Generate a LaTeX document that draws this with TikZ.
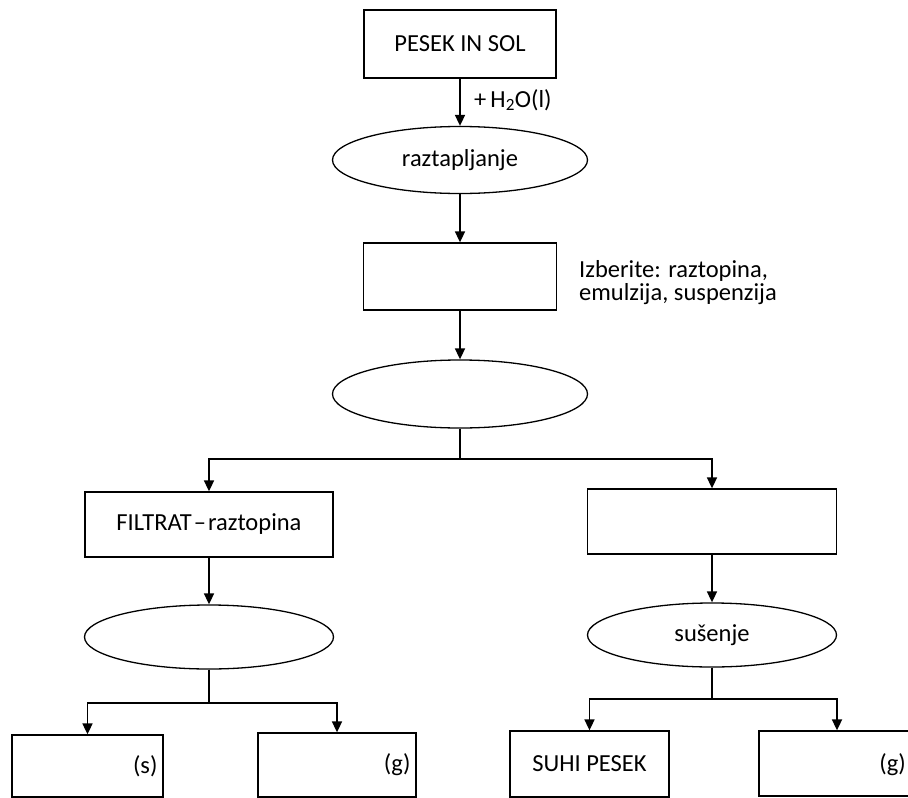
\documentclass[tikz,border=0pt]{standalone}
\usepackage{fontspec}
\setmainfont{Carlito}
\usetikzlibrary{shapes.geometric,arrows.meta}
\begin{document}
\begin{tikzpicture}[x=1pt,y=-1pt,
  txt/.style={font=\fontsize{24.5}{23}\selectfont},
  box/.style={draw,line width=1.3pt,rectangle,inner sep=0pt,txt},
  oval/.style={draw,line width=1.3pt,ellipse,inner sep=0pt,minimum width=255pt,minimum height=67pt,txt},
  arr/.style={line width=1.7pt,-{Triangle[width=10pt,length=11pt]}},
  lbl/.style={inner sep=0pt,txt}]
\useasboundingbox (0,0) rectangle (908,798);
\fill[white] (0,0) rectangle (908,798);
% nodes
\node[box,minimum width=192pt,minimum height=68pt] (top) at (460,44) {PESEK IN SOL};
\node[oval] (e1) at (460,160) {raztapljanje};
\node[box,minimum width=193pt,minimum height=67pt] (b2) at (460,276.5) {};
\node[oval,minimum height=68pt] (e2) at (460,394) {};
\node[box,minimum width=248pt,minimum height=65pt] (filt) at (209,524.5) {FILTRAT\hspace{2pt}–\hspace{2pt}raztopina};
\node[box,minimum width=249pt,minimum height=65pt] (res) at (712,521.5) {};
\node[oval,minimum width=249pt,minimum height=64pt] (e3) at (209,637) {};
\node[oval,minimum width=249pt,minimum height=64pt] (e4) at (712,635) {sušenje};
\node[box,minimum width=151pt,minimum height=62pt] (s1) at (87.5,766) {};
\node[box,minimum width=158pt,minimum height=64pt] (g1) at (337,765) {};
\node[box,minimum width=159pt,minimum height=66pt] (sp) at (589.5,764) {SUHI PESEK};
\node[box,minimum width=156pt,minimum height=65pt] (g2) at (837,763.5) {};
% labels
\node[lbl,anchor=west] (h2o) at (474,100) {+\,H\textsubscript{2}O(l)};
\node[lbl,anchor=base west,align=left] (izb) at (579,300) {Izberite: raztopina,\\emulzija, suspenzija};
\node[lbl,anchor=east] (s1l) at ([xshift=-6pt]s1.east) {(s)};
\node[lbl,anchor=east] (g1l) at ([xshift=-6pt]g1.east) {(g)};
\node[lbl,anchor=east] (g2l) at (906,765) {(g)};
% connectors
\draw[arr] (top.south) -- (e1.north);
\draw[arr] (e1.south) -- (b2.north);
\draw[arr] (b2.south) -- (e2.north);
\draw[arr] (e2.south) -- ++(0,30) -| (filt.north);
\draw[arr] (e2.south) -- ++(0,30) -| (res.north);
\draw[arr] (filt.south) -- (e3.north);
\draw[arr] (res.south) -- (e4.north);
\draw[arr] (e3.south) -- ++(0,33) -| (s1.north);
\draw[arr] (e3.south) -- ++(0,33) -| (g1.north);
\draw[arr] (e4.south) -- ++(0,31) -| (sp.north);
\draw[arr] (e4.south) -- ++(0,31) -| (g2.north);
\end{tikzpicture}
\end{document}
